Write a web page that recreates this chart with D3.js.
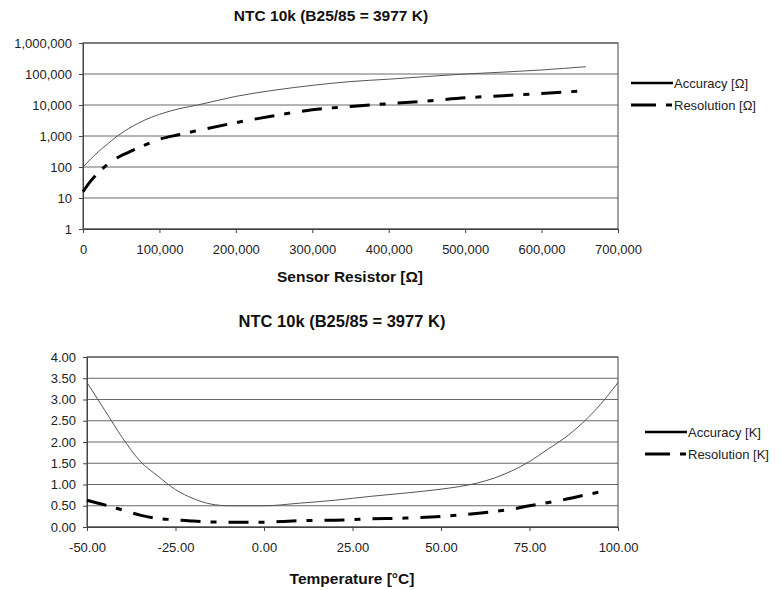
<!DOCTYPE html>
<html>
<head>
<meta charset="utf-8">
<script src="https://cdn.jsdelivr.net/npm/d3@7"></script>
<style>
  body { margin: 0; background: #fff; }
  svg { display: block; font-family: "Liberation Sans", Arial, sans-serif; }
</style>
</head>
<body>
<div id="chart"></div>
<script>
// top chart: sensor resistor [Ohm]
var resX = [0, 10000, 20000, 30000, 45000, 60000, 80000, 100000, 125000, 150000, 200000,
            250000, 300000, 350000, 400000, 450000, 500000, 550000, 600000, 658000];
var resAccuracy = [100, 180, 310, 500, 1000, 1750, 3200, 5000, 7500, 10000, 19000,
                   30000, 43000, 57000, 68000, 83000, 100000, 115000, 135000, 172000];
var resResolution = [16, 35, 65, 110, 200, 300, 500, 780, 1100, 1500, 2700,
                     4500, 7000, 9000, 11000, 13500, 17000, 20000, 23500, 29000];
var resXTicks = [0, 100000, 200000, 300000, 400000, 500000, 600000, 700000];
var resYTicks = [1, 10, 100, 1000, 10000, 100000, 1000000];

// bottom chart: temperature [degC]
var tempX = [-50, -45, -40, -35, -30, -25, -20, -15, -10, -5, 0, 10, 20, 30, 40, 50,
             60, 65, 70, 75, 80, 85, 90, 95, 100];
var tempAccuracy = [3.40, 2.75, 2.10, 1.55, 1.20, 0.88, 0.67, 0.54, 0.50, 0.50, 0.50, 0.56, 0.63, 0.72, 0.80, 0.89,
                    1.03, 1.15, 1.32, 1.54, 1.82, 2.10, 2.45, 2.88, 3.40];
var tempResX = [-50, -45, -40, -35, -30, -25, -20, -15, -10, -5, 0, 5, 10, 20, 30, 40, 50,
                60, 70, 75, 80, 85, 90, 97];
var tempResolution = [0.63, 0.52, 0.40, 0.28, 0.20, 0.17, 0.14, 0.12, 0.11, 0.11, 0.11, 0.13, 0.15, 0.16, 0.19, 0.21, 0.25,
                      0.32, 0.42, 0.50, 0.57, 0.65, 0.74, 0.86];
var tempXTicks = [-50, -25, 0, 25, 50, 75, 100];
var tempYTicks = [0, 0.5, 1, 1.5, 2, 2.5, 3, 3.5, 4];

var title = "NTC 10k (B25/85 = 3977 K)";

var svg = d3.select("#chart").append("svg")
    .attr("width", 780)
    .attr("height", 590);

var fmtComma = d3.format(",");
var fmt2 = function(d) { return d3.format(".2f")(d).replace("\u2212", "-"); };

function drawPanel(opt) {
  var g = svg.append("g");

  // title
  g.append("text")
    .attr("x", opt.titleX).attr("y", opt.titleY)
    .attr("text-anchor", "middle")
    .attr("font-size", opt.titleSize).attr("font-weight", "bold").attr("fill", "#111")
    .text(title);

  // horizontal grid lines
  g.append("g")
    .selectAll("line")
    .data(opt.yTicks)
    .join("line")
      .attr("x1", opt.x.range()[0]).attr("x2", opt.x.range()[1])
      .attr("y1", d => opt.y(d)).attr("y2", d => opt.y(d))
      .attr("stroke", "#6a6a6a").attr("stroke-width", 1);

  // frame
  g.append("rect")
    .attr("x", opt.x.range()[0]).attr("y", opt.y.range()[1])
    .attr("width", opt.x.range()[1] - opt.x.range()[0])
    .attr("height", opt.y.range()[0] - opt.y.range()[1])
    .attr("fill", "none").attr("stroke", "#444").attr("stroke-width", 1);

  // axes
  var xAxis = g.append("g")
    .attr("transform", "translate(0," + opt.y.range()[0] + ")")
    .call(d3.axisBottom(opt.x).tickValues(opt.xTicks).tickFormat(opt.xFormat)
      .tickSizeInner(4).tickSizeOuter(0).tickPadding(12));
  var yAxis = g.append("g")
    .attr("transform", "translate(" + opt.x.range()[0] + ",0)")
    .call(d3.axisLeft(opt.y).tickValues(opt.yTicks).tickFormat(opt.yFormat)
      .tickSizeInner(4).tickSizeOuter(0).tickPadding(7));
  [xAxis, yAxis].forEach(function(a) {
    a.select(".domain").attr("stroke", "#444");
    a.selectAll(".tick line").attr("stroke", "#444");
    a.selectAll(".tick text").attr("font-size", 13).attr("fill", "#222")
      .attr("font-family", "Liberation Sans, Arial, sans-serif");
  });

  // x axis title
  g.append("text")
    .attr("x", opt.xLabelX).attr("y", opt.xLabelY)
    .attr("text-anchor", "middle")
    .attr("font-size", 15.5).attr("font-weight", "bold").attr("fill", "#111")
    .text(opt.xLabel);

  // lines
  var line = d3.line()
    .x(d => opt.x(d[0]))
    .y(d => opt.y(d[1]))
    .curve(d3.curveMonotoneX);

  g.append("path")
    .datum(d3.zip(opt.accX, opt.acc))
    .attr("fill", "none").attr("stroke", "#555").attr("stroke-width", 1)
    .attr("d", line);

  g.append("path")
    .datum(d3.zip(opt.resX, opt.res))
    .attr("fill", "none").attr("stroke", "#000").attr("stroke-width", 3)
    .attr("stroke-dasharray", "20,10,6,12")
    .attr("d", line);

  // legend
  var lg = g.append("g").attr("transform", "translate(" + opt.legendX + "," + opt.legendY + ")");
  lg.append("line").attr("x1", 0).attr("x2", 42).attr("y1", 0).attr("y2", 0)
    .attr("stroke", "#000").attr("stroke-width", 2.5);
  lg.append("text").attr("x", 43).attr("y", 4.5)
    .attr("font-size", 13).attr("fill", "#222").text(opt.accLabel);
  lg.append("line").attr("x1", 0).attr("x2", 42).attr("y1", 22).attr("y2", 22)
    .attr("stroke", "#000").attr("stroke-width", 3)
    .attr("stroke-dasharray", "25,10,6,12");
  lg.append("text").attr("x", 43).attr("y", 26.5)
    .attr("font-size", 13).attr("fill", "#222").text(opt.resLabel);
}

drawPanel({
  x: d3.scaleLinear().domain([0, 700000]).range([83, 618]),
  y: d3.scaleLog().domain([1, 1000000]).range([229, 43]),
  xTicks: resXTicks, yTicks: resYTicks,
  xFormat: fmtComma, yFormat: fmtComma,
  titleX: 331, titleY: 21, titleSize: 15.5,
  xLabel: "Sensor Resistor [\u03A9]", xLabelX: 350, xLabelY: 282,
  accX: resX, acc: resAccuracy, resX: resX, res: resResolution,
  legendX: 631, legendY: 83,
  accLabel: "Accuracy [\u03A9]", resLabel: "Resolution [\u03A9]"
});

drawPanel({
  x: d3.scaleLinear().domain([-50, 100]).range([87, 618]),
  y: d3.scaleLinear().domain([0, 4]).range([527, 357]),
  xTicks: tempXTicks, yTicks: tempYTicks,
  xFormat: fmt2, yFormat: fmt2,
  titleX: 342, titleY: 327, titleSize: 16.5,
  xLabel: "Temperature [\u00B0C]", xLabelX: 352, xLabelY: 584,
  accX: tempX, acc: tempAccuracy, resX: tempResX, res: tempResolution,
  legendX: 645, legendY: 432,
  accLabel: "Accuracy [K]", resLabel: "Resolution [K]"
});
</script>
</body>
</html>
